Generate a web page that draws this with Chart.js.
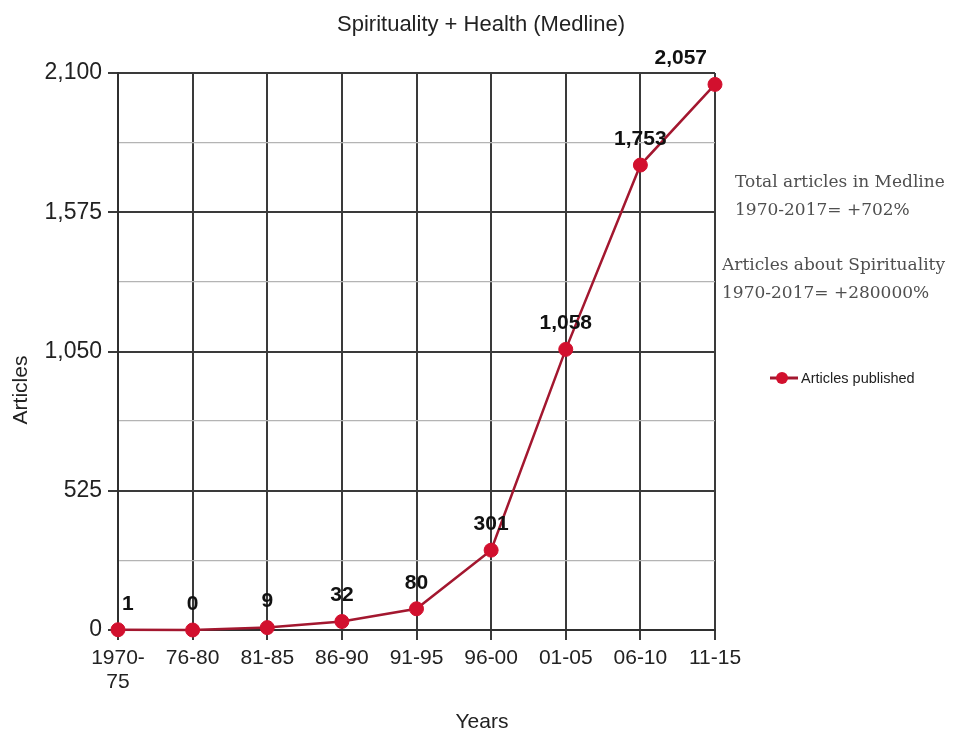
<!DOCTYPE html>
<html>
<head>
<meta charset="utf-8">
<script src="https://cdn.jsdelivr.net/npm/chart.js@4/dist/chart.umd.min.js"></script>
<style>
  html, body { margin: 0; padding: 0; background: #ffffff; }
  #wrap { width: 955px; height: 734px; }
</style>
</head>
<body>
<div id="wrap"><canvas id="chart" width="955" height="734"></canvas></div>
<script>
// Medline articles on spirituality and health, per five-year period
const periods = [["1970-", "75"], "76-80", "81-85", "86-90", "91-95", "96-00", "01-05", "06-10", "11-15"];
const articles = [1, 0, 9, 32, 80, 301, 1058, 1753, 2057];
const yMajorTicks = [0, 525, 1050, 1575, 2100];
const yMinorTicks = [262.5, 787.5, 1312.5, 1837.5];
const chartTitle = "Spirituality + Health (Medline)";
const xTitle = "Years";
const yTitle = "Articles";
const seriesName = "Articles published";
const notes = [
  ["Total articles in Medline", "1970-2017= +702%"],
  ["Articles about Spirituality", "1970-2017= +280000%"]
];

const SANS = "'Liberation Sans', Arial, Helvetica, sans-serif";
const SERIF = "'DejaVu Serif', Georgia, serif";
const LINE_RED = "#a3172f";
const DOT_RED = "#d2102e";
const GRID_DARK = "#3a3a3a";
const GRID_LIGHT = "#b4b4b4";

const isMajor = v => yMajorTicks.some(m => Math.abs(m - v) < 1e-6);

// value labels above each point, kept inside the plot area
const valueLabels = {
  id: "valueLabels",
  afterDatasetsDraw(chart) {
    const { ctx, chartArea } = chart;
    const meta = chart.getDatasetMeta(0);
    ctx.save();
    ctx.font = "bold 21px " + SANS;
    ctx.fillStyle = "#111";
    ctx.textBaseline = "middle";
    ctx.textAlign = "center";
    meta.data.forEach((pt, i) => {
      const txt = articles[i].toLocaleString("en-US");
      const w = ctx.measureText(txt).width;
      let x = pt.x;
      x = Math.max(x, chartArea.left + 4 + w / 2);
      x = Math.min(x, chartArea.right - 8 - w / 2);
      ctx.fillText(txt, x, pt.y - 26);
    });
    ctx.restore();
  }
};

// title, axis titles, legend and side notes
const sideTexts = {
  id: "sideTexts",
  afterDraw(chart) {
    const { ctx } = chart;
    ctx.save();
    ctx.fillStyle = "#222";
    ctx.textAlign = "center";
    ctx.textBaseline = "middle";
    ctx.font = "22px " + SANS;
    ctx.fillText(chartTitle, 481, 25);
    ctx.font = "21px " + SANS;
    ctx.fillText(xTitle, 482, 722);
    ctx.translate(21, 390);
    ctx.rotate(-Math.PI / 2);
    ctx.fillText(yTitle, 0, 0);
    ctx.restore();

    // legend entry
    ctx.save();
    ctx.strokeStyle = LINE_RED;
    ctx.lineWidth = 3;
    ctx.beginPath();
    ctx.moveTo(770, 378);
    ctx.lineTo(798, 378);
    ctx.stroke();
    ctx.fillStyle = DOT_RED;
    ctx.beginPath();
    ctx.arc(782, 378, 6, 0, Math.PI * 2);
    ctx.fill();
    ctx.fillStyle = "#222";
    ctx.font = "14.5px " + SANS;
    ctx.textAlign = "left";
    ctx.textBaseline = "middle";
    ctx.fillText(seriesName, 801, 379);
    ctx.restore();

    // notes
    ctx.save();
    ctx.fillStyle = "#4f4f4f";
    ctx.font = "17px " + SERIF;
    ctx.textAlign = "left";
    ctx.textBaseline = "middle";
    ctx.fillText(notes[0][0], 735, 183);
    ctx.fillText(notes[0][1], 735, 211);
    ctx.fillText(notes[1][0], 722, 266);
    ctx.fillText(notes[1][1], 722, 294);
    ctx.restore();
  }
};

new Chart(document.getElementById("chart"), {
  type: "line",
  data: {
    labels: periods,
    datasets: [{
      label: seriesName,
      data: articles,
      borderColor: LINE_RED,
      borderWidth: 2.5,
      backgroundColor: DOT_RED,
      pointBackgroundColor: DOT_RED,
      pointBorderColor: DOT_RED,
      pointRadius: 7,
      pointBorderWidth: 1,
      tension: 0,
      clip: false
    }]
  },
  options: {
    responsive: false,
    devicePixelRatio: 1,
    animation: false,
    layout: { padding: { left: 0, right: 240, top: 73, bottom: 0 } },
    plugins: {
      legend: { display: false },
      tooltip: { enabled: false },
      title: { display: false }
    },
    scales: {
      x: {
        offset: false,
        grid: {
          color: GRID_DARK,
          lineWidth: 2,
          tickLength: 10,
          tickColor: GRID_DARK
        },
        border: { color: "#2f2f2f", width: 2 },
        ticks: {
          color: "#222",
          font: { family: SANS, size: 21, lineHeight: 1.15 },
          padding: 6,
          maxRotation: 0,
          autoSkip: false
        },
        afterFit(scale) { scale.height = 104; }
      },
      y: {
        min: 0,
        max: 2100,
        afterBuildTicks(scale) {
          scale.ticks = yMajorTicks.concat(yMinorTicks)
            .sort((a, b) => a - b)
            .map(v => ({ value: v }));
        },
        grid: {
          color: ctx => isMajor(ctx.tick.value) ? GRID_DARK : GRID_LIGHT,
          lineWidth: ctx => isMajor(ctx.tick.value) ? 2 : 1.3,
          tickLength: 10,
          tickColor: ctx => isMajor(ctx.tick.value) ? GRID_DARK : "rgba(0,0,0,0)"
        },
        border: { color: "#2f2f2f", width: 2 },
        ticks: {
          color: "#222",
          font: { family: SANS, size: 23 },
          padding: 6,
          callback: v => isMajor(v) ? Number(v).toLocaleString("en-US") : ""
        },
        afterFit(scale) { scale.width = 118; }
      }
    }
  },
  plugins: [valueLabels, sideTexts]
});
</script>
</body>
</html>
